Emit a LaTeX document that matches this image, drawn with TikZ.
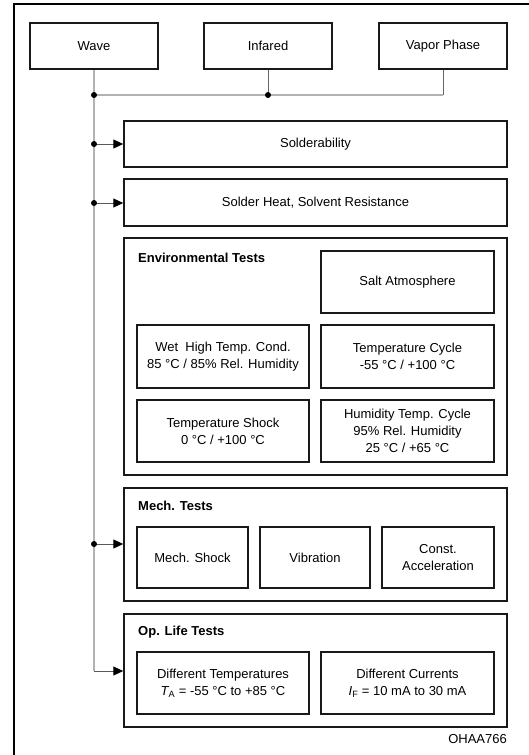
\documentclass[tikz,border=0pt]{standalone}
\usepackage{fontspec}
\setmainfont{Liberation Sans}
\usetikzlibrary{arrows.meta}
\begin{document}
\begin{tikzpicture}[x=1pt,y=-1pt,
  every node/.style={font=\fontsize{13}{17}\selectfont},
  box/.style={draw=black!90, line width=1.5pt, inner sep=0pt, align=center},
  title/.style={anchor=west, font=\fontsize{13}{15}\selectfont\bfseries, inner sep=0pt},
  feed/.style={draw=black!30, line width=1.4pt},
  drop/.style={draw=black!60, line width=1pt},
  arr/.style={draw=black!65, line width=1pt, -{Triangle[length=10pt,width=9pt,fill=black,color=black]}},
  junction/.style={circle, fill=black, inner sep=0pt, minimum size=6pt}
]
\useasboundingbox (0,0) rectangle (529,755);
% frame
\draw[line width=2.5pt] (14,755) -- (14,4) -- (529,4);

% top boxes
\node[box, minimum width=128pt, minimum height=46pt] (wave) at (94,46) {Wave};
\node[box, minimum width=128pt, minimum height=46pt] (infared) at (268,46) {Infared};
\node[box, minimum width=128pt, minimum height=46pt] (vapor) at (443,46) {Vapor Phase};

% single boxes
\node[box, minimum width=383pt, minimum height=46pt] (solder) at (315.5,144) {Solderability};
\node[box, minimum width=383pt, minimum height=47pt] (heat) at (315.5,202.5) {Solder Heat, Solvent Resistance};

% environmental
\node[box, minimum width=383pt, minimum height=237pt] (env) at (315.5,356.5) {};
\node[title] (envt) at (138,258) {Environmental Tests};
\node[box, minimum width=173pt, minimum height=62pt] (salt) at (407.5,282) {Salt Atmosphere};
\node[box, minimum width=172pt, minimum height=63pt] (wet) at (223,356.5) {Wet\ \ High Temp. Cond.\\85 °C / 85\% Rel. Humidity};
\node[box, minimum width=173pt, minimum height=63pt] (tcycle) at (407.5,356.5) {Temperature Cycle\\-55 °C / +100 °C};
\node[box, minimum width=172pt, minimum height=62pt] (tshock) at (223,431) {Temperature Shock\\0 °C / +100 °C};
\node[box, minimum width=173pt, minimum height=62pt] (humid) at (407.5,431) {Humidity Temp. Cycle\\95\% Rel. Humidity\\25 °C / +65 °C};

% mechanical
\node[box, minimum width=383pt, minimum height=113pt] (mech) at (315.5,544.5) {};
\node[title] (mecht) at (138,506) {Mech. Tests};
\node[box, minimum width=111pt, minimum height=61pt] (mshock) at (192.5,557.5) {Mech. Shock};
\node[box, minimum width=110pt, minimum height=61pt] (vib) at (315,557.5) {Vibration};
\node[box, minimum width=112pt, minimum height=61pt] (const) at (438,557.5) {Const.\\Acceleration};

% op life
\node[box, minimum width=383pt, minimum height=113pt] (op) at (315.5,670.5) {};
\node[title] (opt) at (138,632) {Op. Life Tests};
\node[box, minimum width=172pt, minimum height=62pt] (dtemp) at (223,683) {Different Temperatures\\{\itshape T}\textsubscript{A} = -55 °C to +85 °C};
\node[box, minimum width=173pt, minimum height=62pt] (dcur) at (407.5,683) {Different Currents\\{\itshape I}\textsubscript{F} = 10 mA to 30 mA};

\node[anchor=east, inner sep=0pt] (code) at (507,739) {OHAA766};

% connectors
\coordinate (j0) at (94,95);
\coordinate (j1) at (268,95);
\coordinate (j2) at (443,95);
\coordinate (k1) at (94,144);
\coordinate (k2) at (94,203);
\coordinate (k3) at (94,544);
\coordinate (k4) at (94,671);

\draw[feed] (wave.south) -- (k4);
\draw[feed] (j0) -- (j2);
\draw[drop] (infared.south) -- (j1);
\draw[drop] (vapor.south) -- (j2);
\draw[arr] (k1) -- (k1 -| solder.west);
\draw[arr] (k2) -- (k2 -| heat.west);
\draw[arr] (k3) -- (k3 -| mech.west);
\draw[arr] (k4) -- (k4 -| op.west);

\node[junction] at (j0) {};
\node[junction] at (j1) {};
\node[junction] at (k1) {};
\node[junction] at (k2) {};
\node[junction] at (k3) {};
\end{tikzpicture}
\end{document}
